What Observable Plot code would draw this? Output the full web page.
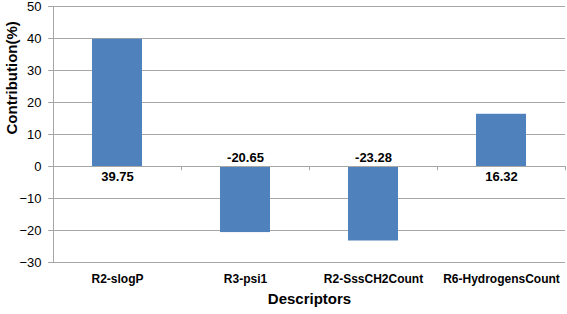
<!DOCTYPE html>
<html><head><meta charset="utf-8">
<script src="https://cdn.jsdelivr.net/npm/d3@7"></script>
<script src="https://cdn.jsdelivr.net/npm/@observablehq/plot@0.6"></script>
<style>
html,body{margin:0;padding:0;background:#fff;}
svg{font-family:"Liberation Sans",Arial,sans-serif;}
</style></head>
<body><div id="chart"></div>
<script>
const descriptors = ["R2-slogP", "R3-psi1", "R2-SssCH2Count", "R6-HydrogensCount"];
const contributions = [39.75, -20.65, -23.28, 16.32];
const yTicks = [-30, -20, -10, 0, 10, 20, 30, 40, 50];

const data = descriptors.map((d, i) => ({descriptor: d, value: contributions[i]}));
const pos = data.filter(d => d.value >= 0);
const neg = data.filter(d => d.value < 0);

const chart = Plot.plot({
  width: 567,
  height: 314,
  marginLeft: 53,
  marginRight: 2,
  marginTop: 6,
  marginBottom: 52,
  style: {fontFamily: '"Liberation Sans", Arial, sans-serif', background: "#fff"},
  x: {domain: descriptors, paddingInner: 0.61, paddingOuter: 0.305},
  y: {domain: [-30, 50]},
  marks: [
    Plot.gridY(yTicks, {stroke: "#a6a6a6", strokeOpacity: 1, strokeWidth: 1}),
    Plot.frame({anchor: "left", stroke: "#a6a6a6"}),
    Plot.barY(data, {x: "descriptor", y: "value", fill: "#4f81bd"}),
    Plot.ruleY([0], {stroke: "#a6a6a6"}),
    Plot.ruleX(descriptors, {x: d => d, dx: 64, y1: 0, y2: -1.3, stroke: "#a6a6a6"}),
    Plot.text(pos, {x: "descriptor", y: 0, text: d => d.value.toFixed(2), dy: 10, fontWeight: "bold", fontSize: 13, fill: "#000"}),
    Plot.text(neg, {x: "descriptor", y: 0, text: d => d.value.toFixed(2), dy: -9, fontWeight: "bold", fontSize: 13, fill: "#000"}),
    Plot.axisY({ticks: yTicks, tickSize: 5, tickPadding: 7, fontSize: 13, stroke: "#a6a6a6", color: "#000", label: null}),
    Plot.axisX({tickSize: 0, tickPadding: 12, fontSize: 12, fontWeight: "bold", label: null}),
    Plot.text(["Contribution(%)"], {frameAnchor: "left", dx: -41, rotate: -90, fontWeight: "bold", fontSize: 15}),
    Plot.text(["Descriptors"], {frameAnchor: "bottom", dy: 41, fontWeight: "bold", fontSize: 15})
  ]
});
document.getElementById("chart").appendChild(chart);
</script></body></html>
